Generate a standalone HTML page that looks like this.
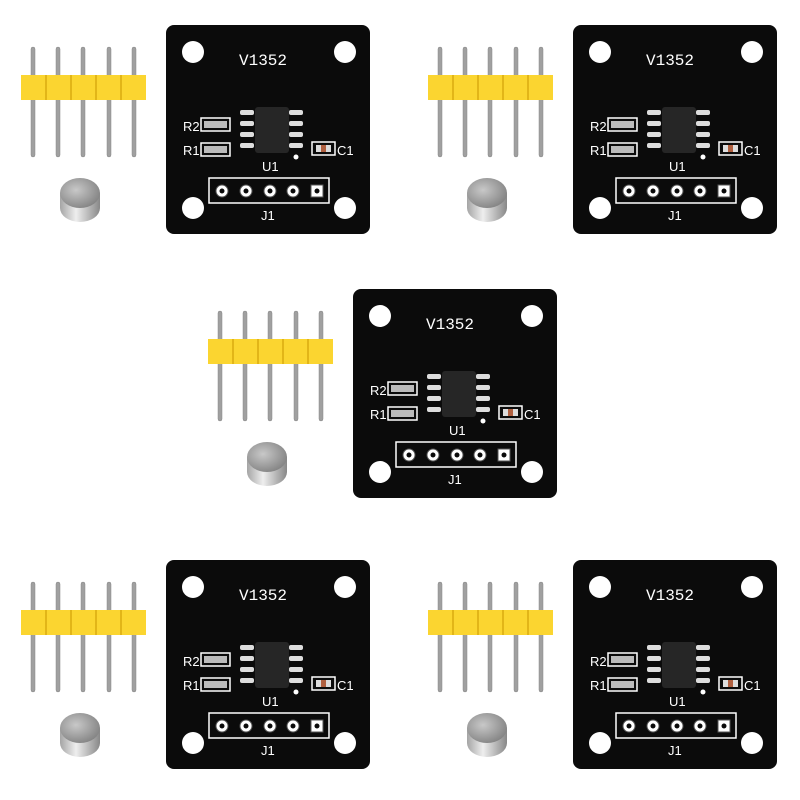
<!DOCTYPE html>
<html><head><meta charset="utf-8"><style>html,body{margin:0;padding:0;background:#fff}svg{display:block}</style></head>
<body>
<svg width="800" height="800" viewBox="0 0 800 800" xmlns="http://www.w3.org/2000/svg" font-family="Liberation Sans, sans-serif">
<defs>
<linearGradient id="mag" x1="0" x2="1"><stop offset="0" stop-color="#a5a5a5"/><stop offset="0.4" stop-color="#eeeeee"/><stop offset="1" stop-color="#888"/></linearGradient>
<radialGradient id="magtop" cx="0.4" cy="0.4" r="0.7"><stop offset="0" stop-color="#c8c8c8"/><stop offset="1" stop-color="#7e7e7e"/></radialGradient>
<g id="mod">
  <g fill="#a0a0a0" stroke="#888" stroke-width="0.5">
    <rect x="31" y="47" width="4" height="110" rx="2"/>
    <rect x="56" y="47" width="4" height="110" rx="2"/>
    <rect x="81" y="47" width="4" height="110" rx="2"/>
    <rect x="107" y="47" width="4" height="110" rx="2"/>
    <rect x="132" y="47" width="4" height="110" rx="2"/>
  </g>
  <rect x="21" y="75" width="125" height="25" fill="#fbd530"/>
  <g stroke="#d9aa10" stroke-width="1.5"><line x1="46" y1="75" x2="46" y2="100"/><line x1="71" y1="75" x2="71" y2="100"/><line x1="96" y1="75" x2="96" y2="100"/><line x1="121" y1="75" x2="121" y2="100"/></g>
  <path d="M60 193 L60 208 A20 14 0 0 0 100 208 L100 193 Z" fill="url(#mag)"/>
  <ellipse cx="80" cy="193" rx="20" ry="15" fill="url(#magtop)"/>
  <rect x="166" y="25" width="204" height="209" rx="8" fill="#0b0b0b"/>
  <g fill="#fff">
    <circle cx="193" cy="52" r="11"/><circle cx="345" cy="52" r="11"/>
    <circle cx="193" cy="208" r="11"/><circle cx="345" cy="208" r="11"/>
  </g>
  <text x="263" y="65" font-size="16" fill="#fff" text-anchor="middle" font-family="Liberation Mono, monospace">V1352</text>
  <g fill="#ddd">
    <rect x="240" y="110" width="14" height="5" rx="2"/><rect x="240" y="121" width="14" height="5" rx="2"/>
    <rect x="240" y="132" width="14" height="5" rx="2"/><rect x="240" y="143" width="14" height="5" rx="2"/>
    <rect x="289" y="110" width="14" height="5" rx="2"/><rect x="289" y="121" width="14" height="5" rx="2"/>
    <rect x="289" y="132" width="14" height="5" rx="2"/><rect x="289" y="143" width="14" height="5" rx="2"/>
  </g>
  <rect x="255" y="107" width="34" height="46" rx="3" fill="#262626"/>
  <circle cx="296" cy="157" r="2.5" fill="#fff"/>
  <rect x="201" y="118" width="29" height="13" fill="none" stroke="#fff" stroke-width="1.5"/>
  <rect x="204" y="121" width="23" height="7" fill="#bbb"/>
  <rect x="201" y="143" width="29" height="13" fill="none" stroke="#fff" stroke-width="1.5"/>
  <rect x="204" y="146" width="23" height="7" fill="#bbb"/>
  <text x="183" y="131" font-size="13" fill="#fff">R2</text>
  <text x="183" y="155" font-size="13" fill="#fff">R1</text>
  <rect x="312" y="142" width="23" height="13" fill="none" stroke="#fff" stroke-width="1.5"/>
  <rect x="316" y="145" width="15" height="7" fill="#ddd"/>
  <rect x="321" y="145" width="5" height="7" fill="#b06040"/>
  <text x="337" y="155" font-size="13" fill="#fff">C1</text>
  <text x="262" y="171" font-size="13" fill="#fff">U1</text>
  <rect x="209" y="178" width="120" height="25" fill="none" stroke="#fff" stroke-width="1.5"/>
  <g fill="#fff" stroke="#555" stroke-width="1">
    <circle cx="222" cy="191" r="6"/><circle cx="246" cy="191" r="6"/><circle cx="270" cy="191" r="6"/><circle cx="293" cy="191" r="6"/>
    <rect x="311" y="185" width="12" height="12"/>
  </g>
  <g fill="#0b0b0b"><circle cx="222" cy="191" r="2.5"/><circle cx="246" cy="191" r="2.5"/><circle cx="270" cy="191" r="2.5"/><circle cx="293" cy="191" r="2.5"/><circle cx="317" cy="191" r="2.5"/></g>
  <text x="261" y="220" font-size="13" fill="#fff">J1</text>
</g>
</defs>
<use href="#mod" x="0" y="0"/>
<use href="#mod" x="407" y="0"/>
<use href="#mod" x="187" y="264"/>
<use href="#mod" x="0" y="535"/>
<use href="#mod" x="407" y="535"/>
</svg>
</body></html>
